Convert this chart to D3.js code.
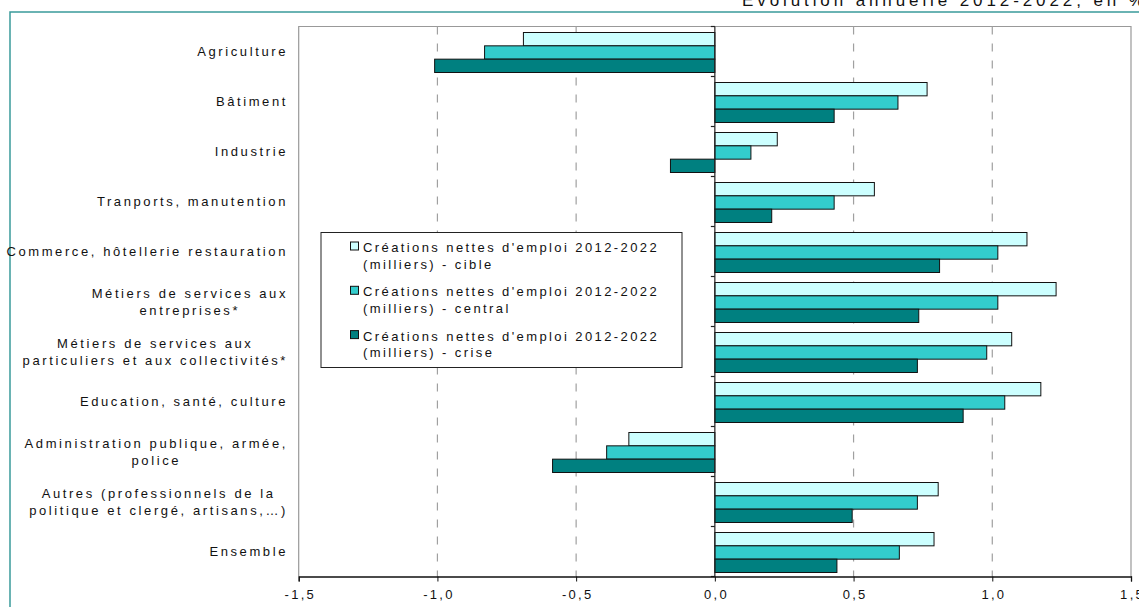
<!DOCTYPE html>
<html><head><meta charset="utf-8">
<script src="https://cdn.jsdelivr.net/npm/d3@7/dist/d3.min.js"></script>
<style>
html,body{margin:0;padding:0;background:#fff;}
svg{display:block;font-family:"Liberation Sans",Arial,sans-serif;}
</style></head>
<body>
<svg id="chart" width="1139" height="607"></svg>
<script>
const categories = [
  "Agriculture",
  "Bâtiment",
  "Industrie",
  "Tranports, manutention",
  "Commerce, hôtellerie restauration",
  "Métiers de services aux\nentreprises*",
  "Métiers de services aux\nparticuliers et aux collectivités*",
  "Education, santé, culture",
  "Administration publique, armée,\npolice",
  "Autres (professionnels de la\npolitique et clergé, artisans,…)",
  "Ensemble"
];
const seriesNames = [
  "Créations nettes d'emploi 2012-2022\n(milliers) - cible",
  "Créations nettes d'emploi 2012-2022\n(milliers) - central",
  "Créations nettes d'emploi 2012-2022\n(milliers) - crise"
];
const cible   = [-0.69, 0.765, 0.225, 0.575, 1.125, 1.23, 1.07, 1.175, -0.31, 0.805, 0.79];
const central = [-0.83, 0.66, 0.13, 0.43, 1.02, 1.02, 0.98, 1.045, -0.39, 0.73, 0.665];
const crise   = [-1.01, 0.43, -0.16, 0.205, 0.81, 0.735, 0.73, 0.895, -0.585, 0.495, 0.44];
const xTicks = [-1.5, -1.0, -0.5, 0.0, 0.5, 1.0, 1.5];
const xTickLabels = ["-1,5", "-1,0", "-0,5", "0,0", "0,5", "1,0", "1,5"];
const title = "Evolution annuelle 2012-2022, en %";
const colors = ["#CCFFFF", "#33CCCC", "#008080"];

(function () {
const svg = d3.select("#chart");
const series = [cible, central, crise];

const pL = 298.7, pR = 1131, pT = 26.5, pB = 576.5;
const x = d3.scaleLinear().domain([-1.5, 1.5]).range([pL, pR]);
const y = d3.scaleBand().domain(d3.range(categories.length)).range([pT, pB])
  .paddingInner(0.2).paddingOuter(0.1).align(0.6);
const yStep = (pB - pT) / categories.length;
const ySub = d3.scaleBand().domain(d3.range(3)).range([0, y.bandwidth()]);

// title
svg.append("text").attr("x", 742).attr("y", 6)
  .attr("font-size", 17).attr("letter-spacing", 3.9).attr("fill", "#111")
  .text(title);

// outer frame
svg.append("path").attr("d", "M10,620 V12 H1160")
  .attr("fill", "none").attr("stroke", "#3a9a9a").attr("stroke-width", 1.5);

// plot border
svg.append("path").attr("d", `M${pL},${pB} V${pT} H${pR} V${pB}`)
  .attr("fill", "none").attr("stroke", "#999").attr("stroke-width", 1.2);

// gridlines
svg.append("g").selectAll("line").data(xTicks.filter(d => d !== 0 && Math.abs(d) !== 1.5))
  .join("line")
  .attr("x1", d => x(d)).attr("x2", d => x(d)).attr("y1", pT).attr("y2", pB)
  .attr("stroke", "#a0a0a0").attr("stroke-width", 1.2).attr("stroke-dasharray", "8,9");

// bars
const g = svg.append("g");
series.forEach((vals, si) => {
  g.append("g").selectAll("rect").data(vals).join("rect")
    .attr("x", d => x(Math.min(0, d)))
    .attr("width", d => Math.abs(x(d) - x(0)))
    .attr("y", (d, i) => y(i) + ySub(si))
    .attr("height", ySub.bandwidth())
    .attr("fill", colors[si]).attr("stroke", "#111").attr("stroke-width", 1);
});

// category axis at zero
const zx = x(0);
svg.append("line").attr("x1", zx).attr("x2", zx).attr("y1", pT).attr("y2", pB)
  .attr("stroke", "#222").attr("stroke-width", 1.2);
svg.append("g").selectAll("line").data(d3.range(categories.length + 1)).join("line")
  .attr("x1", zx - 4).attr("x2", zx).attr("y1", i => pT + i * yStep).attr("y2", i => pT + i * yStep)
  .attr("stroke", "#222").attr("stroke-width", 1.2);

// x axis
const xAxis = d3.axisBottom(x).tickValues(xTicks).tickSize(5).tickPadding(8)
  .tickFormat((d, i) => xTickLabels[i]);
const ax = svg.append("g").attr("transform", `translate(0,${pB})`).call(xAxis);
ax.select(".domain").attr("stroke", "#111").attr("stroke-width", 1.3);
ax.selectAll(".tick line").attr("stroke", "#111");
ax.selectAll(".tick text").attr("font-size", 13).attr("letter-spacing", 2.3)
  .attr("font-family", "Liberation Sans, Arial, sans-serif").attr("fill", "#111")
  .attr("dx", 1.1);

// category labels
const labelRight = 288;
const lineH = 17;
categories.forEach((c, i) => {
  const lines = c.split("\n");
  const cyc = pT + (i + 0.5) * yStep;
  const t = svg.append("text").attr("font-size", 13).attr("letter-spacing", 2.6)
    .attr("fill", "#111").attr("text-anchor", "middle");
  const tsp = lines.map((ln, k) => t.append("tspan").attr("y", cyc + (k - (lines.length - 1) / 2) * lineH)
    .attr("dy", "0.36em").text(ln));
  let maxW = 0;
  tsp.forEach(s => { maxW = Math.max(maxW, s.node().getComputedTextLength()); });
  const cx = labelRight - maxW / 2;
  tsp.forEach(s => s.attr("x", cx));
});

// legend
const lg = svg.append("g");
lg.append("rect").attr("x", 321).attr("y", 232.5).attr("width", 361).attr("height", 135)
  .attr("fill", "#fff").attr("stroke", "#222").attr("stroke-width", 1);
seriesNames.forEach((s, si) => {
  const by = 252 + si * 44.3;
  lg.append("rect").attr("x", 350.5).attr("y", by - 10).attr("width", 8).attr("height", 8)
    .attr("fill", colors[si]).attr("stroke", "#111").attr("stroke-width", 1);
  const t = lg.append("text").attr("font-size", 13).attr("letter-spacing", 2.4).attr("fill", "#111");
  s.split("\n").forEach((ln, k) => {
    t.append("tspan").attr("x", 363).attr("y", by + k * 16.6).text(ln);
  });
});
})();
</script>
</body></html>
